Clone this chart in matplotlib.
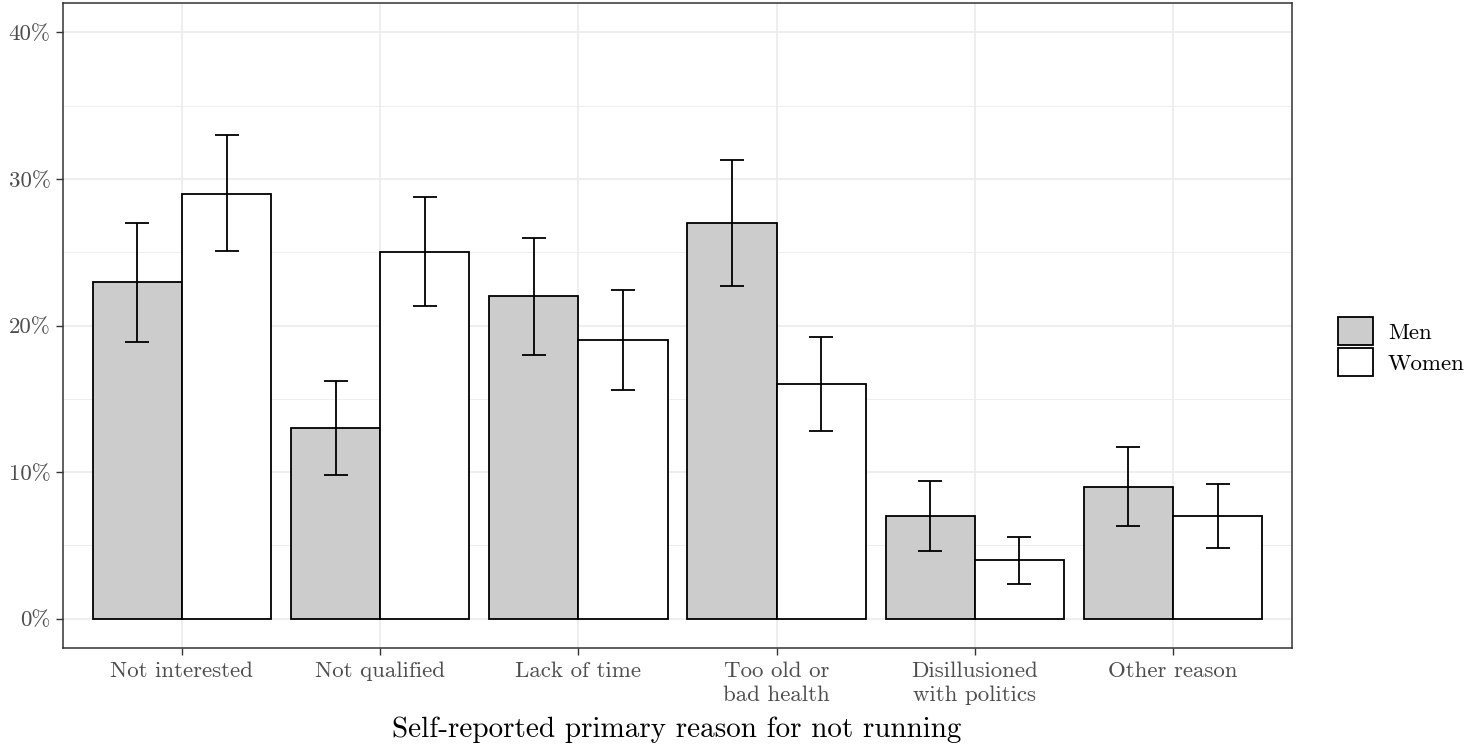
import matplotlib
matplotlib.use("Agg")
import matplotlib.pyplot as plt
import numpy as np
from matplotlib.patches import Patch
from matplotlib.ticker import MultipleLocator, FuncFormatter

plt.rcParams["font.family"] = ["cmr10", "DejaVu Serif"]
plt.rcParams["axes.formatter.use_mathtext"] = True

reasons = ["Not interested", "Not qualified", "Lack of time",
           "Too old or\nbad health", "Disillusioned\nwith politics", "Other reason"]
men = [23, 13, 22, 27, 7, 9]
men_lo = [18.9, 9.8, 18.0, 22.7, 4.6, 6.3]
men_hi = [27.0, 16.2, 26.0, 31.3, 9.4, 11.7]
women = [29, 25, 19, 16, 4, 7]
women_lo = [25.1, 21.3, 15.6, 12.8, 2.4, 4.8]
women_hi = [33.0, 28.8, 22.4, 19.2, 5.6, 9.2]

W, H = 1483, 744
fig = plt.figure(figsize=(W / 100, H / 100), dpi=100)
ax = fig.add_axes([63 / W, 1 - 648 / H, (1292 - 63) / W, (648 - 3) / H])

x = np.arange(1, len(reasons) + 1)
w = 0.45
lw = 1.3

for vals, lo, hi, off, col in [(men, men_lo, men_hi, -w / 2, "#cccccc"),
                               (women, women_lo, women_hi, w / 2, "white")]:
    vals = np.array(vals)
    ax.bar(x + off, vals, width=w, color=col, edgecolor="black", linewidth=lw, zorder=3)
    ax.errorbar(x + off, vals, yerr=[vals - np.array(lo), np.array(hi) - vals],
                fmt="none", ecolor="black", elinewidth=lw, capsize=8.6,
                capthick=lw, zorder=4)

ax.set_xlim(0.4, 6.6)
ax.set_ylim(-2, 42)
ax.set_xticks(x)
ax.set_xticklabels(reasons, linespacing=1.3)
ax.yaxis.set_major_locator(MultipleLocator(10))
ax.yaxis.set_minor_locator(MultipleLocator(5))
ax.xaxis.set_minor_locator(MultipleLocator(1))
ax.yaxis.set_major_formatter(FuncFormatter(lambda v, p: f"{v:.0f}%"))

ax.grid(True, which="major", color="#ebebeb", linewidth=1.2, zorder=0)
ax.grid(True, which="minor", axis="y", color="#ebebeb", linewidth=0.6, zorder=0)
ax.set_axisbelow(True)
for s in ax.spines.values():
    s.set_color("#333333")
    s.set_linewidth(1.1)

ax.tick_params(axis="both", which="major", colors="#333333", labelcolor="#4d4d4d",
               labelsize=16.5, length=5, width=1.0, pad=4)
ax.tick_params(axis="both", which="minor", length=0)
ax.tick_params(axis="x", pad=4.5)

fig.text(677 / W, 1 - 737 / H, "Self-reported primary reason for not running",
         fontsize=21, ha="center", va="baseline")

handles = [Patch(facecolor="#cccccc", edgecolor="black", linewidth=lw, label="Men"),
           Patch(facecolor="white", edgecolor="black", linewidth=lw, label="Women")]
fig.legend(handles=handles, loc="center left", bbox_to_anchor=(1338 / W, 1 - 346.5 / H),
           frameon=False, fontsize=16.5, handlelength=1.53, handleheight=1.48,
           handletextpad=0.65, labelspacing=0.15, borderpad=0, borderaxespad=0)

fig.savefig("out.png", dpi=100)
